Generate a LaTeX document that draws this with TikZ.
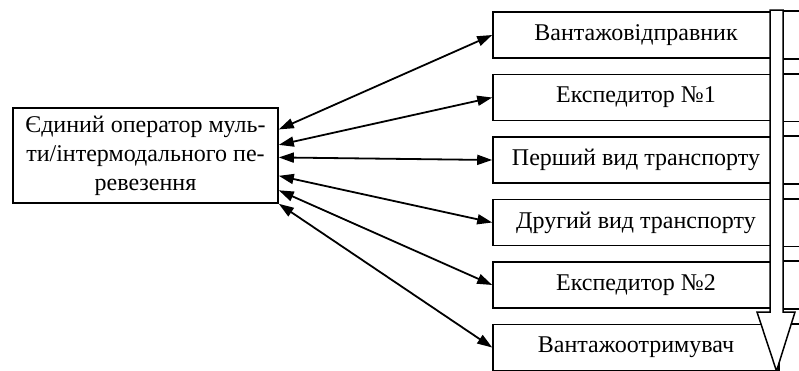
\documentclass[tikz,border=0pt]{standalone}
\usepackage{fontspec}
\setmainfont{Liberation Serif}
\usetikzlibrary{arrows.meta,calc}
\begin{document}
\begin{tikzpicture}[x=1pt,y=-1pt,
  box/.style={draw, line width=1.6pt, minimum height=46pt, inner sep=0pt,
              font=\fontsize{24}{29}\selectfont},
  link/.style={{Triangle[length=15pt,width=10pt]}-{Triangle[length=15pt,width=10pt]}, line width=1.8pt},
  bigarrow/.style={draw, line width=1.5pt, fill=white}]
\useasboundingbox (0,0) rectangle (799,370);
\clip (0,0) rectangle (799,370);
\node[box, minimum width=265pt, minimum height=95pt, align=center] (L) at (145.5,155.5)
  {Єдиний оператор муль-\\ти/інтермодального пе-\\ревезення};
\node[box, minimum width=286pt] (b1) at (636,35) {Вантажовідправник};
\node[box, minimum width=286pt] (b2) at (636,97.5) {Експедитор №1};
\node[box, minimum width=286pt] (b3) at (636,160) {Перший вид транспорту};
\node[box, minimum width=286pt] (b4) at (636,222.5) {Другий вид транспорту};
\node[box, minimum width=286pt] (b5) at (636,285) {Експедитор №2};
\node[box, minimum width=286pt] (b6) at (636,347.5) {Вантажоотримувач};
\foreach \b in {b1,b2,b3,b4,b5,b6}
  \draw[line width=1.6pt] (\b.north east) -- ++(30,0) (\b.south east) -- ++(30,0);
\foreach \t/\b in {0.23/b1, 0.39/b2, 0.52/b3, 0.71/b4, 0.86/b5, 1.0/b6}
  \draw[link] ($(L.north east)!\t!(L.south east)$) -- (\b.west);
\coordinate (tip) at (776.5,371);
\draw[bigarrow] (770,312) -- (770,10) -- (783,10) -- (783,312) -- (795,312) -- (tip) -- (757,312) -- cycle;
\end{tikzpicture}
\end{document}
